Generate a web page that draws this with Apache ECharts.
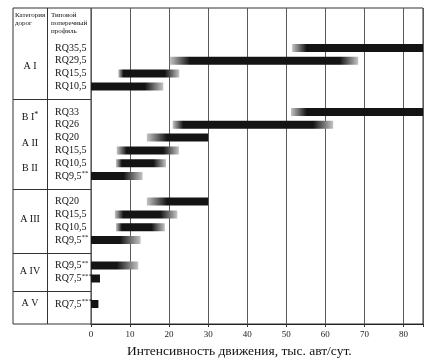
<!DOCTYPE html>
<html><head><meta charset="utf-8">
<script src="https://cdn.jsdelivr.net/npm/echarts@6/dist/echarts.min.js"></script>
<style>html,body{margin:0;padding:0;background:#fff}#c{width:446px;height:359px}</style>
</head><body><div id="c"></div>
<script>
// Row labels (type profiles); '' = spacer between groups
const rowLabels = ['RQ35,5','RQ29,5','RQ15,5','RQ10,5','','RQ33','RQ26','RQ20','RQ15,5','RQ10,5','RQ9,5**','','RQ20','RQ15,5','RQ10,5','RQ9,5**','','RQ9,5**','RQ7,5***','','RQ7,5***',''];
// traffic ranges, thousand veh/day: faded start, solid start, solid end, faded end
const barLo   = [51.5,20.2, 7.0, 0, null, 51.2,20.9,14.3, 6.6, 6.4, 0, null, 14.3, 6.1, 6.4, 0, null, 0, 0, null, 0, null];
const solidLo = [55.2,25.3, 8.3, 0, null, 55.2,23.6,19.4, 9.1, 7.9, 0, null, 19.4, 8.3, 7.9, 0, null, 0, 0, null, 0, null];
const solidHi = [85,  63.7,18.9,13.8,null, 85, 56.9,30,  18.5,16.0, 8.3,null, 30, 17.7,15.5, 7.4,null, 6.6,2.3,null,1.9,null];
const barHi   = [85,  68.4,22.6,18.5,null, 85, 62.0,30,  22.5,19.2,13.2,null, 30, 22.1,18.9,12.7,null,12.1,2.3,null,1.9,null];
// road categories and the rows they span
const groupNames = ['A I','B I*','A II','B II','A III','A IV','A V'];
const groupFrom  = [1,5,7,9,13,17,20];
const groupTo    = [2,6,8,10,14,18,20];
const xTicks = [0,10,20,30,40,50,60,70,80];
const xMax = 85;
const xTitle = 'Интенсивность движения, тыс. авт/сут.';

const FONT = '"Liberation Serif","DejaVu Serif",serif';
const chart = echarts.init(document.getElementById('c'));

const baseData = barLo.map(v => v == null ? '-' : v);
const barData = barLo.map((lo, i) => {
  if (lo == null) return '-';
  const len = barHi[i] - lo;
  const a = (solidLo[i] - lo) / len, b = (solidHi[i] - lo) / len;
  const dark = '#141414', light = '#c4c4c4';
  const stops = [{offset: 0, color: a > 0.001 ? light : dark},
                 {offset: Math.max(a, 0.001), color: dark},
                 {offset: Math.min(b, 0.999), color: dark},
                 {offset: 1, color: b < 0.999 ? light : dark}];
  return {value: len, itemStyle: {color: new echarts.graphic.LinearGradient(0, 0, 1, 0, stops)}};
});

function splitStars(s) {
  const m = s.match(/^([^*]*)(\**)$/);
  return m[2] ? '{b|' + m[1] + '}{s|' + m[2] + '}' : '{b|' + m[1] + '}';
}

chart.setOption({
  animation: false,
  grid: [
    {left: 91, right: 23, top: 8, bottom: 35, show: true, borderColor: '#333', borderWidth: 1, containLabel: false},
    {left: 91, right: 23, top: 41.6, height: 22 * 12.8, containLabel: false}
  ],
  xAxis: [
    {gridIndex: 0, type: 'value', min: 0, max: xMax, interval: 10,
     axisLine: {show: true, lineStyle: {color: '#222'}},
     axisTick: {show: true, length: 3, lineStyle: {color: '#333'}},
     splitLine: {show: true, lineStyle: {color: '#5a5a5a', width: 1}},
     axisLabel: {fontFamily: FONT, fontSize: 9, color: '#222', margin: 6,
       formatter: v => xTicks.indexOf(v) >= 0 ? String(v) : ''}},
    {gridIndex: 1, type: 'value', min: 0, max: xMax, show: false}
  ],
  yAxis: [
    {gridIndex: 0, type: 'value', show: false},
    {gridIndex: 1, type: 'category', inverse: true, data: rowLabels,
     axisLine: {show: false}, axisTick: {show: false}, splitLine: {show: false},
     axisLabel: {align: 'left', margin: 36, interval: 0, formatter: v => v ? splitStars(v) : '',
       rich: {b: {fontFamily: FONT, fontSize: 10, color: '#111'},
              s: {fontFamily: FONT, fontSize: 7, color: '#111', padding: [0, 0, 5, 0]}}}}
  ],
  series: [
    {type: 'bar', xAxisIndex: 1, yAxisIndex: 1, stack: 'r', data: baseData, barWidth: 8,
     itemStyle: {color: 'transparent'}, silent: true},
    {type: 'bar', xAxisIndex: 1, yAxisIndex: 1, stack: 'r', data: barData, barWidth: 8}
  ]
});

// table drawn around the axis
const yOf = i => chart.convertToPixel({yAxisIndex: 1}, i);
const topY = 8, botY = 324, leftX = 13, colX = 47.5, plotX = 91;
const els = [];
const L = (x1, y1, x2, y2) => els.push({type: 'line', shape: {x1, y1, x2, y2}, style: {stroke: '#333', lineWidth: 1}, silent: true});
L(leftX, topY, plotX, topY);
L(leftX, botY, plotX, botY);
L(leftX, topY, leftX, botY);
L(colX, topY, colX, botY);
rowLabels.forEach((r, i) => { if (r === '' && i < rowLabels.length - 1) L(leftX, Math.round(yOf(i)) + 0.5, plotX, Math.round(yOf(i)) + 0.5); });
els.push({type: 'text', left: 15, top: 11, style: {text: 'Категория\nдорог', font: '7px ' + FONT, fill: '#111', lineHeight: 8}});
els.push({type: 'text', left: 51, top: 11, style: {text: 'Типовой\nпоперечный\nпрофиль', font: '7px ' + FONT, fill: '#111', lineHeight: 8}});
groupNames.forEach((g, k) => {
  const y = (yOf(groupFrom[k]) + yOf(groupTo[k])) / 2;
  const m = g.match(/^([^*]*)(\**)$/);
  els.push({type: 'text', x: 30, y: y - 1, style: {
    text: m[2] ? '{b|' + m[1] + '}{s|' + m[2] + '}' : '{b|' + m[1] + '}',
    rich: {b: {fontFamily: FONT, fontSize: 10, fill: '#111'}, s: {fontFamily: FONT, fontSize: 8, fill: '#111', padding: [0, 0, 5, 0]}},
    align: 'center', verticalAlign: 'middle'}});
});
els.push({type: 'text', left: 127, top: 344, style: {text: xTitle, font: '13.5px ' + FONT, fill: '#111'}});
chart.setOption({graphic: els});
</script></body></html>
